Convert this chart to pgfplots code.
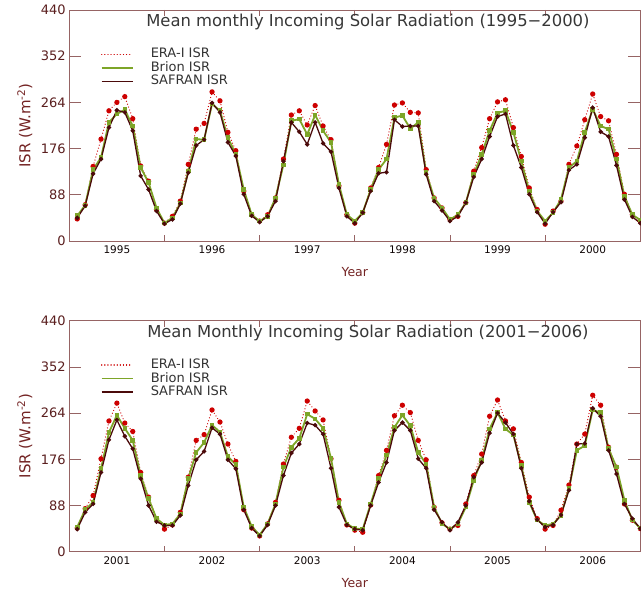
\documentclass[border=0pt]{standalone}
\usepackage{pgfplots}
\pgfplotsset{compat=1.18}
\usepackage{pgfplotstable}
\usepackage{fontspec}
\setmainfont{DejaVu Sans}

\definecolor{boxc}{RGB}{150,100,100}
\definecolor{tickc}{RGB}{90,30,30}
\definecolor{labc}{RGB}{115,35,35}
\definecolor{titlec}{RGB}{55,55,55}
\definecolor{erac}{RGB}{205,0,0}
\definecolor{brionc}{RGB}{125,165,40}
\definecolor{safc}{RGB}{75,10,10}

% month index, ERA-I, Brion, SAFRAN (W.m-2)
\pgfplotstableread{
m era brion safran
1 42 48 44
2 69 68 67
3 142 136 128
4 194 159 156
5 248 226 216
6 264 242 249
7 275 250 245
8 233 219 210
9 143 140 124
10 114 111 98
11 60 63 57
12 34 34 33
13 47 44 41
14 76 72 71
15 146 133 130
16 213 194 182
17 224 193 193
18 284 261 263
19 267 248 245
20 207 197 188
21 172 165 162
22 95 98 89
23 50 50 48
24 38 38 36
25 50 47 47
26 82 82 76
27 156 145 152
28 240 229 226
29 248 232 208
30 221 203 184
31 258 240 226
32 219 210 186
33 193 188 170
34 105 108 101
35 50 50 47
36 34 38 34
37 54 54 54
38 101 98 95
39 140 136 129
40 184 156 131
41 259 235 231
42 263 239 218
43 245 214 219
44 244 226 219
45 136 130 127
46 82 82 76
47 63 63 58
48 41 41 38
49 47 50 47
50 73 73 73
51 133 127 122
52 178 165 156
53 233 210 199
54 265 244 237
55 269 248 242
56 216 207 182
57 161 152 140
58 101 95 89
59 60 57 55
60 32 38 33
61 57 54 55
62 76 79 74
63 146 140 135
64 181 152 146
65 231 207 197
66 280 251 254
67 237 219 208
68 229 213 199
69 165 156 144
70 89 85 79
71 50 50 46
72 38 40 34
}\topdata

\pgfplotstableread{
m era brion safran
1 45 47 43
2 82 80 75
3 107 94 91
4 177 158 151
5 249 227 213
6 283 260 251
7 245 235 220
8 229 212 196
9 151 145 139
10 104 101 88
11 63 63 57
12 43 51 50
13 51 53 50
14 75 72 69
15 142 139 126
16 212 189 175
17 223 208 191
18 270 241 236
19 247 228 224
20 205 181 175
21 172 166 158
22 80 85 80
23 45 48 45
24 30 32 30
25 53 53 51
26 94 91 88
27 167 161 145
28 218 199 188
29 235 216 205
30 287 262 245
31 268 253 241
32 251 235 224
33 177 178 159
34 98 94 85
35 51 53 51
36 41 44 43
37 37 43 41
38 89 91 88
39 145 139 132
40 193 184 170
41 259 237 231
42 279 260 246
43 265 240 231
44 212 189 177
45 175 167 159
46 85 85 80
47 55 53 56
48 43 43 41
49 50 53 56
50 91 85 88
51 145 136 142
52 186 174 170
53 258 234 226
54 289 265 264
55 249 234 246
56 234 222 224
57 170 164 159
58 104 94 96
59 63 60 61
60 43 50 47
61 50 53 51
62 79 69 70
63 127 120 117
64 205 193 205
65 224 202 206
66 298 270 273
67 279 265 258
68 199 196 193
69 161 161 148
70 91 98 91
71 60 60 63
72 44 45 44
}\bottomdata

\pgfplotsset{
  isr/.style={
    scale only axis, width=571pt, height=231pt,
    xmin=0, xmax=72, ymin=0, ymax=440,
    axis line style={boxc, line width=0.7pt},
    ytick={0,88,176,264,352,440},
    xtick={6,18,30,42,54,66},
    minor xtick={12,24,36,48,60},
    major x tick style={draw=none},
    tick style={boxc, line width=0.7pt},
    major tick length=12pt, minor tick length=6pt,
    tick align=inside,
    /pgf/number format/assume math mode=true,
    yticklabel style={font=\fontsize{13}{15}\selectfont, text=tickc},
    xticklabel style={font=\fontsize{10.5}{12}\selectfont, text=black!85!tickc, yshift=-1pt},
    ylabel={ISR (W.m\textsuperscript{-2})},
    xlabel={Year},
    every axis y label/.style={at={(axis description cs:-0.078,0.5)}, anchor=center, rotate=90,
      font=\fontsize{15}{17}\selectfont, text=labc},
    every axis x label/.style={at={(axis description cs:0.5,-0.134)}, anchor=center,
      font=\fontsize{12.5}{14}\selectfont, text=labc},
    legend style={draw=none, fill=none, at={(rel axis cs:0.055,0.838)}, anchor=north west,
      font=\fontsize{13}{14}\selectfont, text=black!80, inner sep=0pt, row sep=0pt,
      column sep=16pt,
      nodes={inner sep=1.25pt, text height=9pt, text depth=2pt}},
    legend cell align=left,
    erastyle/.style={erac, line width=1.2pt, line cap=round, dash pattern=on 0.1pt off 3pt,
      mark=*, mark size=2pt, mark options={solid, fill=erac, draw=erac}},
    brionstyle/.style={brionc, line width=1.8pt, mark=square*, mark size=1.4pt,
      mark options={solid, fill=brionc}},
    safstyle/.style={safc, line width=1.3pt, mark=*, mark size=1.5pt,
      mark options={solid, fill=safc}},
  }
}

\newcommand{\isrlegend}{%
  \addlegendimage{legend image code/.code={\draw[draw=erac, line width=1.3pt, line cap=round,
    dash pattern=on 0.1pt off 3pt] (0pt,0pt) -- (30pt,0pt);}}
  \addlegendimage{legend image code/.code={\draw[draw=brionc, line width=1.6pt] (0pt,0pt) -- (31pt,0pt);}}
  \addlegendimage{legend image code/.code={\draw[draw=safc, line width=1.3pt] (0pt,0pt) -- (31pt,0pt);}}
  \legend{ERA-I ISR, Brion ISR, SAFRAN ISR}%
}

\begin{document}
\begin{tikzpicture}
\path[use as bounding box] (0,0) rectangle (641pt,589pt);

\begin{axis}[isr, at={(69.3pt,348pt)}, anchor=south west,
  xticklabels={1995,1996,1997,1998,1999,2000}]
  \addplot[erastyle, forget plot] table[x=m, y=era] {\topdata};
  \addplot[brionstyle, forget plot] table[x=m, y=brion] {\topdata};
  \addplot[safstyle, forget plot] table[x=m, y=safran] {\topdata};
  \isrlegend
  \node[anchor=north, inner sep=0pt, text=titlec, font=\fontsize{16.4}{18}\selectfont]
    at (rel axis cs:0.523,0.983) {Mean monthly Incoming Solar Radiation (1995−2000)};
\end{axis}

\begin{axis}[isr, at={(69.3pt,37.3pt)}, anchor=south west,
  xticklabels={2001,2002,2003,2004,2005,2006}]
  \addplot[erastyle, forget plot] table[x=m, y=era] {\bottomdata};
  \addplot[brionstyle, forget plot] table[x=m, y=brion] {\bottomdata};
  \addplot[safstyle, forget plot] table[x=m, y=safran] {\bottomdata};
  \isrlegend
  \node[anchor=north, inner sep=0pt, text=titlec, font=\fontsize{16.4}{18}\selectfont]
    at (rel axis cs:0.523,0.983) {Mean Monthly Incoming Solar Radiation (2001−2006)};
\end{axis}
\end{tikzpicture}
\end{document}
